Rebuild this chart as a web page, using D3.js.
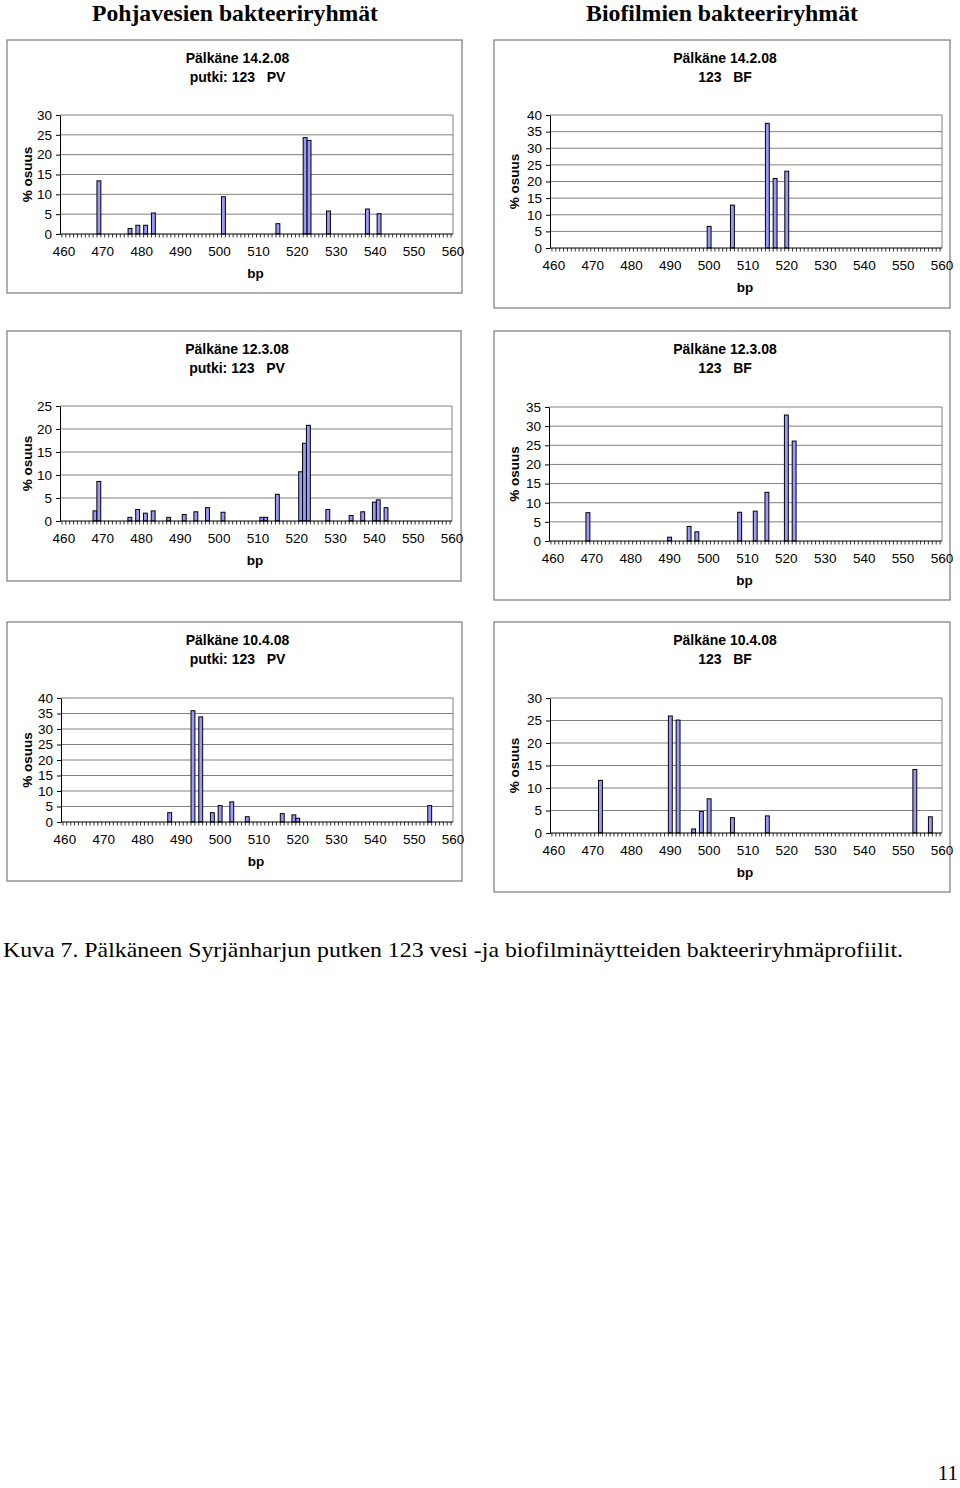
<!DOCTYPE html>
<html>
<head>
<meta charset="utf-8">
<script src="https://cdn.jsdelivr.net/npm/d3@7"></script>
<style>
  body { margin: 0; background: #fff; }
  svg { display: block; }
</style>
</head>
<body>
<svg width="960" height="1488"></svg>
<script>
// --- data ---
const headings = ["Pohjavesien bakteeriryhmät", "Biofilmien bakteeriryhmät"];
const caption = "Kuva 7. Pälkäneen Syrjänharjun putken 123 vesi -ja biofilminäytteiden bakteeriryhmäprofiilit.";
const pageNo = "11";

const xTicks = [460, 470, 480, 490, 500, 510, 520, 530, 540, 550, 560];

// 14.2.08 PV
const bp1 = [469, 477, 479, 481, 483, 501, 515, 522, 523, 528, 538, 541];
const pct1 = [13.4, 1.4, 2.2, 2.2, 5.3, 9.4, 2.6, 24.3, 23.6, 5.8, 6.3, 5.1];
// 14.2.08 BF
const bp2 = [500, 506, 515, 517, 520];
const pct2 = [6.5, 12.9, 37.5, 20.9, 23.1];
// 12.3.08 PV
const bp3 = [468, 469, 477, 479, 481, 483, 487, 491, 494, 497, 501, 511, 512, 515, 521, 522, 523, 528, 534, 537, 540, 541, 543];
const pct3 = [2.2, 8.6, 0.8, 2.5, 1.7, 2.2, 0.8, 1.4, 2.0, 2.9, 1.9, 0.8, 0.8, 5.8, 10.7, 16.9, 20.8, 2.5, 1.2, 2.0, 4.1, 4.6, 2.9];
// 12.3.08 BF
const bp4 = [469, 490, 495, 497, 508, 512, 515, 520, 522];
const pct4 = [7.4, 1.0, 3.8, 2.4, 7.5, 7.8, 12.7, 32.9, 26.1];
// 10.4.08 PV
const bp5 = [487, 493, 495, 498, 500, 503, 507, 516, 519, 520, 554];
const pct5 = [3.0, 35.9, 33.9, 3.0, 5.3, 6.5, 1.7, 2.7, 2.3, 1.2, 5.3];
// 10.4.08 BF
const bp6 = [472, 490, 492, 496, 498, 500, 506, 515, 553, 557];
const pct6 = [11.7, 26.0, 25.1, 0.9, 4.8, 7.6, 3.4, 3.8, 14.1, 3.6];

const titles1 = ["Pälkäne 14.2.08", "Pälkäne 14.2.08", "Pälkäne 12.3.08", "Pälkäne 12.3.08", "Pälkäne 10.4.08", "Pälkäne 10.4.08"];
const titles2 = ["putki: 123   PV", "123   BF", "putki: 123   PV", "123   BF", "putki: 123   PV", "123   BF"];
const yMax = [30, 40, 25, 35, 40, 30];

// --- layout of the six boxes ---
const panels = [
  {box: [7, 40, 462, 293],  plot: [60, 115, 453, 234], bp: bp1, v: pct1},
  {box: [494, 40, 950, 308], plot: [550, 115, 942, 248], bp: bp2, v: pct2},
  {box: [7, 331, 461, 581], plot: [60, 406, 452, 521], bp: bp3, v: pct3},
  {box: [494, 331, 950, 600], plot: [549, 407, 942, 541], bp: bp4, v: pct4},
  {box: [7, 622, 462, 881], plot: [61, 698, 453, 822], bp: bp5, v: pct5},
  {box: [494, 622, 950, 892], plot: [550, 698, 942, 833], bp: bp6, v: pct6}
];

const svg = d3.select("svg");
const sans = "'Liberation Sans', Arial, sans-serif";
const serif = "'Liberation Serif', 'Times New Roman', serif";

svg.selectAll("text.heading")
  .data(headings)
  .join("text")
  .attr("class", "heading")
  .attr("x", (d, i) => i === 0 ? 235 : 722)
  .attr("y", 21)
  .attr("text-anchor", "middle")
  .style("font-family", serif)
  .style("font-weight", "bold")
  .style("font-size", "23px")
  .attr("textLength", (d, i) => i === 0 ? 286 : 272)
  .attr("lengthAdjust", "spacingAndGlyphs")
  .text(d => d);

panels.forEach(function(p, i) {
  const [bx0, by0, bx1, by1] = p.box;
  const [L, T, R, B] = p.plot;
  const g = svg.append("g");

  g.append("rect")
    .attr("x", bx0).attr("y", by0)
    .attr("width", bx1 - bx0).attr("height", by1 - by0)
    .attr("fill", "#fff")
    .attr("stroke", "#7a7a7a")
    .attr("stroke-width", 1.2);

  const cx = (bx0 + bx1) / 2 + 3;
  g.append("text").attr("x", cx).attr("y", by0 + 23)
    .attr("text-anchor", "middle")
    .style("font-family", sans).style("font-weight", "bold").style("font-size", "14px")
    .text(titles1[i]);
  g.append("text").attr("x", cx).attr("y", by0 + 42)
    .attr("text-anchor", "middle")
    .style("font-family", sans).style("font-weight", "bold").style("font-size", "14px")
    .attr("xml:space", "preserve")
    .style("white-space", "pre")
    .text(titles2[i]);

  const x = d3.scaleLinear().domain([459, 560]).range([L, R]);
  const y = d3.scaleLinear().domain([0, yMax[i]]).range([B, T]);
  const bw = x(460) - x(459);

  // gridlines
  g.append("g")
    .selectAll("line")
    .data(d3.range(5, yMax[i] + 1, 5))
    .join("line")
    .attr("x1", L).attr("x2", R)
    .attr("y1", d => y(d)).attr("y2", d => y(d))
    .attr("stroke", "#808080").attr("stroke-width", 1);

  // right border of plot area
  g.append("line")
    .attr("x1", R).attr("x2", R).attr("y1", T).attr("y2", B)
    .attr("stroke", "#808080");

  // bars
  g.append("g")
    .selectAll("rect")
    .data(p.bp.map((b, k) => ({b: b, v: p.v[k]})))
    .join("rect")
    .attr("x", d => x(d.b) - bw / 2)
    .attr("y", d => y(d.v))
    .attr("width", bw)
    .attr("height", d => B - y(d.v))
    .attr("fill", "#9999ff")
    .attr("stroke", "#000")
    .attr("stroke-width", 1);

  // y axis
  const yAxis = d3.axisLeft(y).tickValues(d3.range(0, yMax[i] + 1, 5)).tickSize(4).tickSizeOuter(0);
  const ya = g.append("g").attr("transform", `translate(${L},0)`).call(yAxis);
  ya.select(".domain").attr("stroke", "#000");
  ya.selectAll("text").style("font-family", sans).style("font-size", "13.5px").attr("fill", "#000").attr("dx", "-1");

  // x axis: minor ticks at each bp, labels every 10
  const xa = g.append("g").attr("transform", `translate(0,${B})`);
  xa.append("line").attr("x1", L).attr("x2", R).attr("stroke", "#000");
  xa.selectAll("line.mt")
    .data(d3.range(459.5, 560, 1))
    .join("line")
    .attr("class", "mt")
    .attr("x1", d => x(d)).attr("x2", d => x(d))
    .attr("y1", 0).attr("y2", 3.5)
    .attr("stroke", "#000").attr("stroke-width", 0.8);
  xa.selectAll("text")
    .data(xTicks)
    .join("text")
    .attr("x", d => x(d))
    .attr("y", 22)
    .attr("text-anchor", "middle")
    .style("font-family", sans).style("font-size", "13.5px")
    .text(d => d);

  g.append("text").attr("x", (L + R) / 2 - 1).attr("y", B + 44)
    .attr("text-anchor", "middle")
    .style("font-family", sans).style("font-weight", "bold").style("font-size", "13.5px")
    .text("bp");

  g.append("text")
    .attr("transform", `translate(${bx0 + 25},${(T + B) / 2}) rotate(-90)`)
    .attr("text-anchor", "middle")
    .style("font-family", sans).style("font-weight", "bold").style("font-size", "13.5px")
    .text("% osuus");
});

svg.append("text").attr("x", 3).attr("y", 957)
  .style("font-family", serif).style("font-size", "22px")
  .attr("textLength", 900)
  .attr("lengthAdjust", "spacingAndGlyphs")
  .text(caption);

svg.append("text").attr("x", 958).attr("y", 1480)
  .attr("text-anchor", "end")
  .style("font-family", serif).style("font-size", "21px")
  .text(pageNo);
</script>
</body>
</html>
